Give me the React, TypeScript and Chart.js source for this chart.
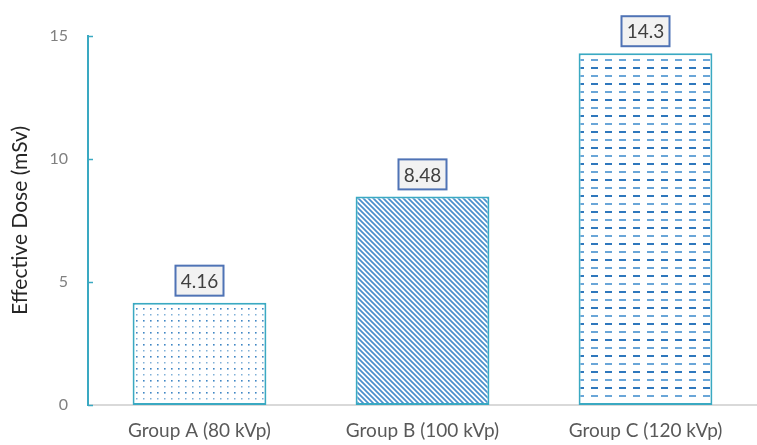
import React, { useEffect, useRef } from "react";
import { Chart, registerables } from "chart.js";

Chart.register(...registerables);

const categories = ["Group A (80 kVp)", "Group B (100 kVp)", "Group C (120 kVp)"];
const doseValues = [4.16, 8.48, 14.3];
const doseLabels = ["4.16", "8.48", "14.3"];
const yTicks = [0, 5, 10, 15];

const FONT = "Lato, 'Open Sans', sans-serif";
const EDGE = "#3aa9c2";

function makeTile(w: number, h: number, draw: (c: CanvasRenderingContext2D) => void) {
  const cv = document.createElement("canvas");
  cv.width = w;
  cv.height = h;
  const c = cv.getContext("2d")!;
  c.fillStyle = "#ffffff";
  c.fillRect(0, 0, w, h);
  draw(c);
  return c.createPattern(cv, "repeat")!;
}

// dotted fill
function dotPattern() {
  return makeTile(7, 12, (c) => {
    c.fillStyle = "#7fb0d8";
    c.fillRect(3, 2, 1.5, 1.5);
    c.fillStyle = "#3f86c4";
    c.fillRect(3, 8, 1.6, 1.6);
  });
}

// diagonal hatch, top-left to bottom-right
function hatchPattern() {
  return makeTile(5, 5, (c) => {
    c.strokeStyle = "#4a8fcc";
    c.lineWidth = 1.7;
    c.beginPath();
    c.moveTo(-1, -1);
    c.lineTo(6, 6);
    c.moveTo(-1, 4);
    c.lineTo(1, 6);
    c.moveTo(4, -1);
    c.lineTo(6, 1);
    c.stroke();
  });
}

// rows of short dashes
function dashPattern() {
  return makeTile(14, 16, (c) => {
    c.fillStyle = "#2f78bd";
    c.fillRect(3, 3, 7, 2);
    c.fillStyle = "#6aa6d8";
    c.fillRect(3, 11, 7, 2);
  });
}

const valueBoxes = {
  id: "valueBoxes",
  afterDatasetsDraw(chart: any) {
    const ctx = chart.ctx;
    const meta = chart.getDatasetMeta(0);
    ctx.save();
    ctx.font = `19px ${FONT}`;
    ctx.textAlign = "center";
    ctx.textBaseline = "middle";
    meta.data.forEach((bar: any, i: number) => {
      const w = 48;
      const h = 30;
      const x = bar.x - w / 2;
      const y = bar.y - 7 - h;
      ctx.fillStyle = "#f2f2f2";
      ctx.fillRect(x, y, w, h);
      ctx.strokeStyle = "#4f73b5";
      ctx.lineWidth = 2;
      ctx.strokeRect(x, y, w, h);
      ctx.fillStyle = "#404040";
      ctx.fillText(doseLabels[i], bar.x, y + h / 2 + 1);
    });
    ctx.restore();
  },
};

// short tick marks drawn on the inner side of the value axis
const innerTicks = {
  id: "innerTicks",
  afterDraw(chart: any) {
    const ctx = chart.ctx;
    const ys = chart.scales.y;
    ctx.save();
    ctx.strokeStyle = EDGE;
    ctx.lineWidth = 1.5;
    yTicks.forEach((t) => {
      const py = Math.round(ys.getPixelForValue(t)) + 0.5;
      ctx.beginPath();
      ctx.moveTo(ys.right, py);
      ctx.lineTo(ys.right + 5, py);
      ctx.stroke();
    });
    ctx.restore();
  },
};

export default function App() {
  const ref = useRef<HTMLCanvasElement>(null);
  useEffect(() => {
    const chart = new Chart(ref.current!, {
      type: "bar",
      data: {
        labels: categories,
        datasets: [
          {
            data: doseValues,
            backgroundColor: [dotPattern(), hatchPattern(), dashPattern()],
            borderColor: EDGE,
            borderWidth: 2,
            borderSkipped: false,
            barPercentage: 0.6,
            categoryPercentage: 1,
          },
        ],
      },
      options: {
        animation: false,
        responsive: true,
        maintainAspectRatio: false,
        layout: { padding: { top: 36, right: 0, left: 0, bottom: 0 } },
        plugins: { legend: { display: false }, tooltip: { enabled: false } },
        scales: {
          x: {
            grid: { display: false, drawTicks: false },
            border: { display: true, color: "#d9d9d9", width: 2 },
            ticks: { color: "#595959", font: { family: FONT, size: 19 }, padding: 14 },
            afterFit: (s: any) => {
              s.height = 40;
            },
          },
          y: {
            min: 0,
            max: 15,
            afterBuildTicks: (s: any) => {
              s.ticks = yTicks.map((v) => ({ value: v }));
            },
            grid: { display: false, drawTicks: false },
            border: { display: true, color: EDGE, width: 2 },
            ticks: { color: "#808080", font: { family: FONT, size: 16 }, padding: 20 },
            title: {
              display: true,
              text: "Effective Dose (mSv)",
              color: "#262626",
              font: { family: FONT, size: 21 },
              padding: { top: 8, bottom: 0 },
            },
            afterFit: (s: any) => {
              s.width = 88;
            },
          },
        },
      },
      plugins: [valueBoxes, innerTicks],
    });
    return () => chart.destroy();
  }, []);
  return (
    <div style={{ position: "fixed", left: 0, top: 0, width: 757, height: 445, background: "#fff" }}>
      <canvas ref={ref} />
    </div>
  );
}
